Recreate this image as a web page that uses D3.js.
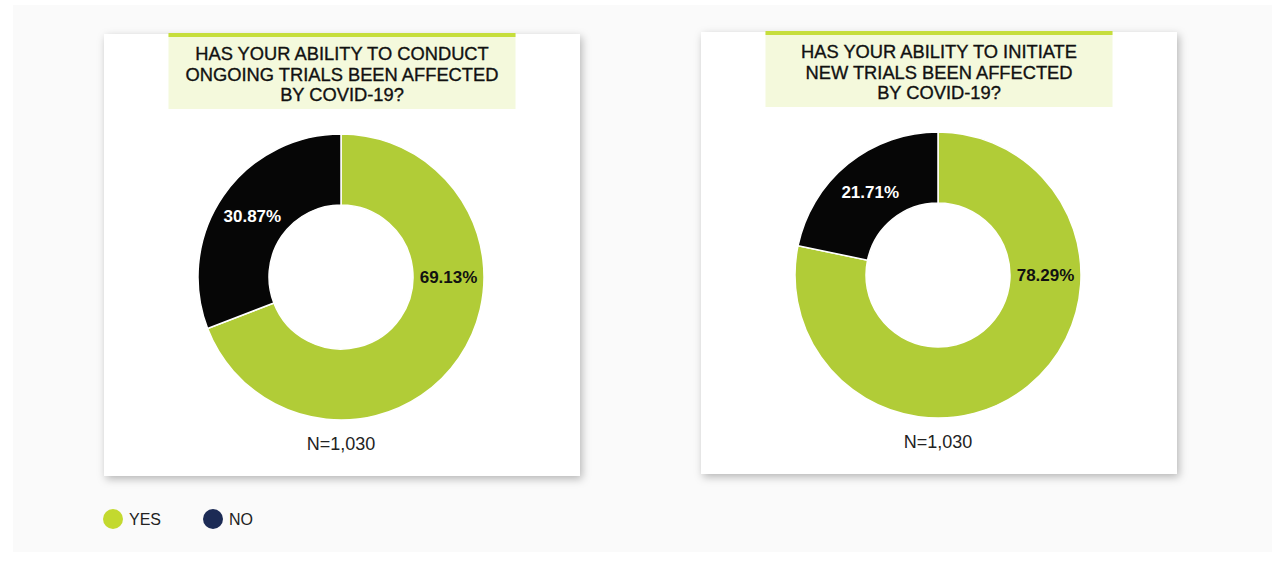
<!DOCTYPE html>
<html>
<head>
<meta charset="utf-8">
<script src="https://cdn.jsdelivr.net/npm/d3@7"></script>
<style>
  body { margin: 0; background: #fff; }
  svg { display: block; font-family: "Liberation Sans", Arial, sans-serif; }
</style>
</head>
<body>
<div id="chart"></div>
<script>
// dados
const categories = ["YES", "NO"];
const titleLines = [
    ["HAS YOUR ABILITY TO CONDUCT", "ONGOING TRIALS BEEN AFFECTED", "BY COVID-19?"],
    ["HAS YOUR ABILITY TO INITIATE", "NEW TRIALS BEEN AFFECTED", "BY COVID-19?"]
];
const yesValues = [69.13, 78.29];
const noValues = [30.87, 21.71];
const sampleLabels = ["N=1,030", "N=1,030"];

const sliceColors = ["#b1cc37", "#060606"];
const legendColors = ["#c3d92f", "#1c2b55"];
const labelColors = ["#111", "#fff"];

const width = 1285, height = 569;

const svg = d3.select('#chart')
    .append('svg')
    .attr('width', width)
    .attr('height', height);

const defs = svg.append('defs');
const shadow = defs.append('filter')
    .attr('id', 'shadow')
    .attr('x', '-10%').attr('y', '-10%')
    .attr('width', '120%').attr('height', '120%');
shadow.append('feDropShadow')
    .attr('dx', 2).attr('dy', 3)
    .attr('stdDeviation', 4)
    .attr('flood-color', '#000')
    .attr('flood-opacity', 0.28);

// painel cinza do fundo
svg.append('rect')
    .attr('x', 13).attr('y', 5)
    .attr('width', 1259).attr('height', 547)
    .attr('fill', '#fafafa');

const cards = [
    { x: 104, y: 34 },
    { x: 701, y: 32 }
];
const cardW = 476, cardH = 442;
const outerR = 143, innerR = 72;

const pie = d3.pie().sort(null).value(d => d.value);
const arc = d3.arc().innerRadius(innerR).outerRadius(outerR);
const labelR = (innerR + outerR) / 2;

cards.forEach((c, i) => {
    const g = svg.append('g').attr('transform', `translate(${c.x},${c.y})`);

    g.append('rect')
        .attr('width', cardW).attr('height', cardH)
        .attr('fill', '#fff')
        .attr('filter', 'url(#shadow)');

    // caixa do título
    const boxW = 347, boxH = 75;
    const bx = (cardW - boxW) / 2;
    g.append('rect')
        .attr('x', bx).attr('y', 0)
        .attr('width', boxW).attr('height', boxH)
        .attr('fill', '#f4f9dc');
    g.append('rect')
        .attr('x', bx).attr('y', -1)
        .attr('width', boxW).attr('height', 4)
        .attr('fill', '#c6de3c');

    // título em três linhas
    g.append('g')
        .attr('transform', `translate(${cardW / 2},0) scale(0.99,1)`)
        .append('text')
        .attr('text-anchor', 'middle')
        .attr('font-size', 18.5)
        .attr('fill', '#111')
        .attr('stroke', '#111')
        .attr('stroke-width', 0.35)
        .selectAll('tspan')
        .data(titleLines[i])
        .join('tspan')
        .attr('x', 0)
        .attr('y', (d, j) => 26.5 + j * 20.5)
        .text(d => d);

    const data = categories.map((cat, k) => ({
        cat: cat,
        value: k === 0 ? yesValues[i] : noValues[i]
    }));

    const cx = cardW / 2 - 1, cy = 243;
    const donut = g.append('g').attr('transform', `translate(${cx},${cy})`);
    const arcs = pie(data);

    donut.selectAll('path')
        .data(arcs)
        .join('path')
        .attr('d', arc)
        .attr('fill', (d, k) => sliceColors[k])
        .attr('stroke', '#fff')
        .attr('stroke-width', 1.5);

    // rótulo da fatia maior fica às 3 horas, a menor no centróide
    donut.selectAll('text')
        .data(arcs)
        .join('text')
        .attr('text-anchor', 'middle')
        .attr('dy', '0.35em')
        .attr('font-size', 17)
        .attr('font-weight', 'bold')
        .attr('fill', (d, k) => labelColors[k])
        .attr('transform', d => {
            const large = (d.endAngle - d.startAngle) > Math.PI;
            const p = large ? [labelR, 0] : arc.centroid(d);
            return `translate(${p[0]},${p[1]})`;
        })
        .text(d => d.value.toFixed(2) + '%');

    g.append('text')
        .attr('x', cx)
        .attr('y', 416)
        .attr('text-anchor', 'middle')
        .attr('font-size', 18)
        .attr('fill', '#222')
        .text(sampleLabels[i]);
});

// legenda
const legend = svg.append('g').attr('transform', 'translate(113,519)');
const item = legend.selectAll('g')
    .data(categories)
    .join('g')
    .attr('transform', (d, k) => `translate(${k * 100},0)`);
item.append('circle')
    .attr('r', 10)
    .attr('fill', (d, k) => legendColors[k]);
item.append('text')
    .attr('x', 16)
    .attr('dy', '0.35em')
    .attr('font-size', 16)
    .attr('fill', '#222')
    .text(d => d);
</script>
</body>
</html>
